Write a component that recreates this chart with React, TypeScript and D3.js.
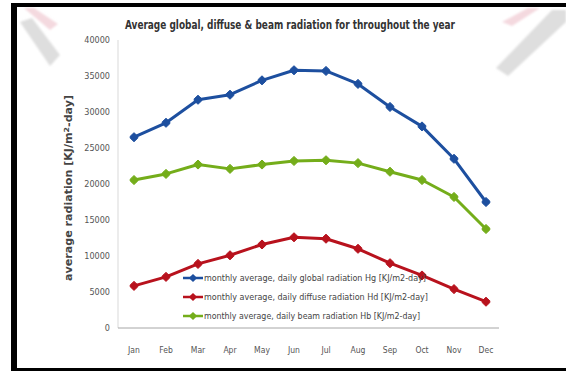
import React from "react";
import * as d3 from "d3";

// Monthly averages of daily radiation, KJ/m2-day
const months = ["Jan", "Feb", "Mar", "Apr", "May", "Jun", "Jul", "Aug", "Sep", "Oct", "Nov", "Dec"];
const globalRad = [26500, 28500, 31700, 32400, 34400, 35800, 35700, 33900, 30700, 28000, 23500, 17500];
const diffuseRad = [5850, 7100, 8900, 10100, 11600, 12600, 12400, 11000, 9000, 7300, 5400, 3650];
const beamRad = [20550, 21400, 22700, 22100, 22700, 23200, 23300, 22900, 21700, 20550, 18200, 13750];
const yTicks = [0, 5000, 10000, 15000, 20000, 25000, 30000, 35000, 40000];

const seriesList = [
  { name: "monthly average, daily global radiation Hg [KJ/m2-day]", values: globalRad, color: "#1d4f9f" },
  { name: "monthly average, daily diffuse radiation Hd [KJ/m2-day]", values: diffuseRad, color: "#b8121d" },
  { name: "monthly average, daily beam radiation Hb [KJ/m2-day]", values: beamRad, color: "#74ad1a" },
];

const W = 566;
const H = 371;
const plot = { left: 118, right: 502, top: 40, bottom: 328 };
const FONT = "'Liberation Sans Narrow', 'DejaVu Sans Condensed', 'Arial Narrow', sans-serif";

export default function App() {
  const x = d3.scaleBand<string>().domain(months).range([plot.left, plot.right]);
  const y = d3.scaleLinear().domain([0, 40000]).range([plot.bottom, plot.top]);
  const cx = (m: string) => (x(m) ?? 0) + x.bandwidth() / 2;

  const line = d3
    .line<number>()
    .x((_, i) => cx(months[i]))
    .y((v) => y(v));

  const marker = (px: number, py: number, r: number) =>
    `M${px},${py - r}L${px + r * 0.85},${py - r * 0.2}L${px + r * 0.85},${py + r * 0.2}L${px},${py + r}L${px - r * 0.85},${py + r * 0.2}L${px - r * 0.85},${py - r * 0.2}Z`;

  const legendX = 183;
  const legendY = [278, 297, 316];

  return (
    <svg
      width={W}
      height={H}
      style={{ position: "absolute", left: 0, top: 0, background: "#ffffff" }}
    >
      <defs>
        <filter id="soft" x="-20%" y="-20%" width="140%" height="140%">
          <feGaussianBlur stdDeviation="1.2" />
        </filter>
      </defs>

      {/* faint watermark strokes */}
      <g filter="url(#soft)">
        <polygon points="20,22 32,18 60,55 50,66" fill="#dedede" />
        <polygon points="24,8 34,8 58,24 50,30" fill="#f4d9df" />
        <polygon points="552,10 566,10 566,22 508,76 496,68" fill="#dedede" />
        <polygon points="528,8 540,8 512,26 502,22" fill="#f4d9df" />
      </g>

      {/* frame */}
      <rect x={11} y={3} width={W - 11} height={4} fill="#000" />
      <rect x={11} y={3} width={6} height={366} fill="#000" />
      <rect x={11} y={368} width={W - 11} height={3} fill="#000" />

      {/* title */}
      <text
        x={290}
        y={29}
        textAnchor="middle"
        fontFamily={FONT}
        fontSize={11.5}
        fontWeight="bold"
        fill="#333"
        textLength={330}
        lengthAdjust="spacingAndGlyphs"
      >
        Average global, diffuse &amp; beam radiation for throughout the year
      </text>

      {/* axes */}
      <line x1={plot.left} x2={plot.left} y1={plot.top} y2={plot.bottom} stroke="#d9d9d9" strokeWidth={1} />
      <line x1={plot.left} x2={plot.right - 3} y1={plot.bottom} y2={plot.bottom} stroke="#a6a6a6" strokeWidth={1} />

      {yTicks.map((t) => (
        <text
          key={t}
          x={110}
          y={y(t)}
          dy="0.35em"
          textAnchor="end"
          fontFamily={FONT}
          fontSize={9}
          fill="#555"
        >
          {t}
        </text>
      ))}

      {months.map((m) => (
        <text
          key={m}
          x={cx(m)}
          y={353}
          textAnchor="middle"
          fontFamily={FONT}
          fontSize={8.5}
          fill="#555"
        >
          {m}
        </text>
      ))}

      <text
        transform={`translate(72,${(plot.top + plot.bottom) / 2 + 4}) rotate(-90)`}
        textAnchor="middle"
        fontFamily={FONT}
        fontSize={10}
        fontWeight="bold"
        fill="#444"
        textLength={186}
        lengthAdjust="spacingAndGlyphs"
      >
        average radiation [KJ/m<tspan fontSize={7} dy={-3}>2</tspan><tspan dy={3}>-day]</tspan>
      </text>

      {/* series */}
      {seriesList.map((s) => (
        <g key={s.name}>
          <path d={line(s.values) ?? ""} fill="none" stroke={s.color} strokeWidth={3} strokeLinejoin="round" />
          {s.values.map((v, i) => (
            <path key={i} d={marker(cx(months[i]), y(v), 4.5)} fill={s.color} stroke={s.color} strokeWidth={1} />
          ))}
        </g>
      ))}

      {/* legend */}
      {seriesList.map((s, i) => (
        <g key={s.name}>
          <line x1={legendX} x2={legendX + 20} y1={legendY[i]} y2={legendY[i]} stroke={s.color} strokeWidth={2.5} />
          <path d={marker(legendX + 10, legendY[i], 4)} fill={s.color} />
          <text
            x={legendX + 21}
            y={legendY[i]}
            dy="0.35em"
            fontFamily={FONT}
            fontSize={9}
            fill="#444"
            textLength={i === 0 ? 222 : i === 1 ? 224 : 216}
            lengthAdjust="spacingAndGlyphs"
          >
            {s.name}
          </text>
        </g>
      ))}
    </svg>
  );
}
